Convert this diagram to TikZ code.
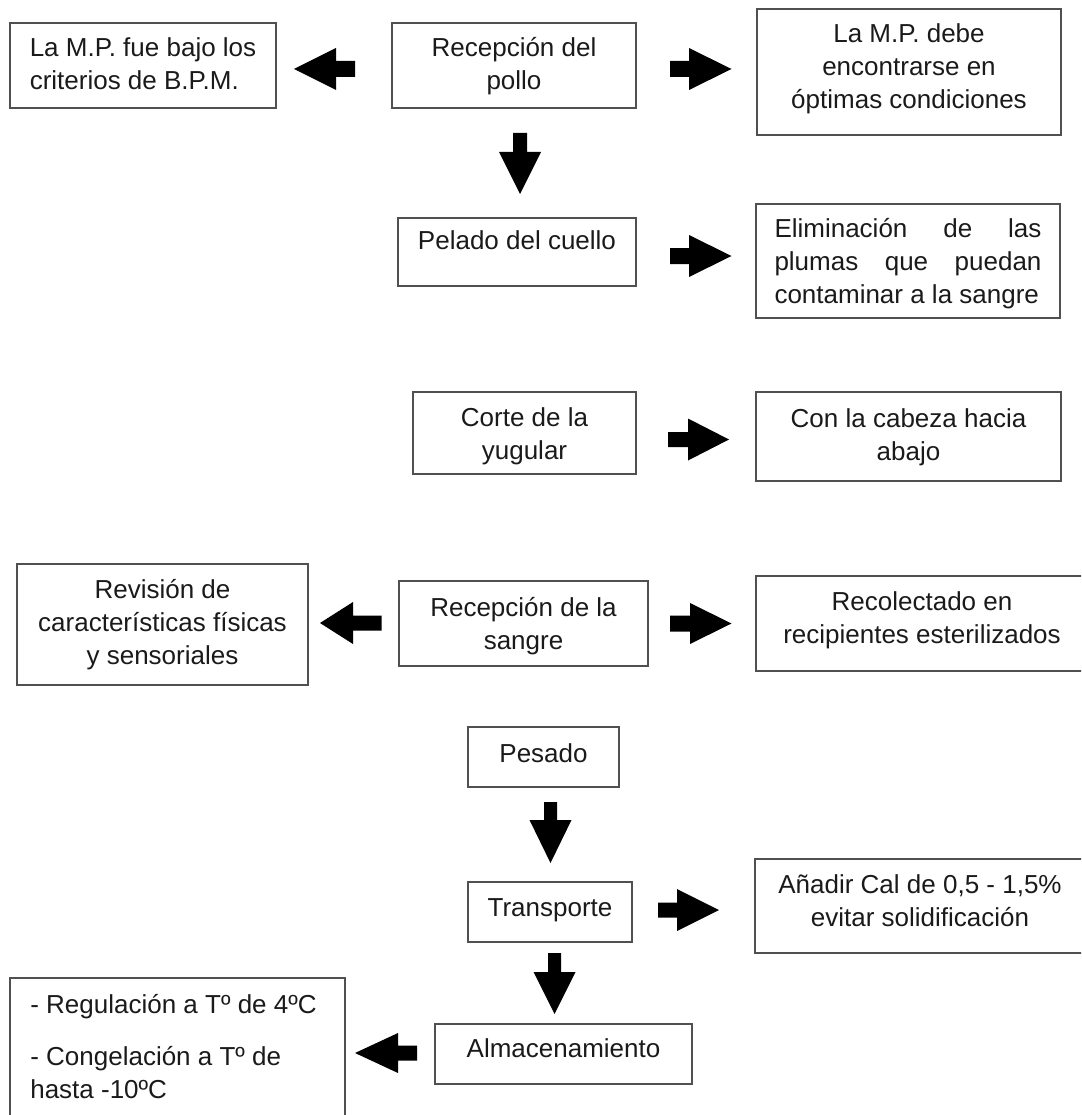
\documentclass[tikz,border=0pt]{standalone}
\usepackage{fontspec}
\setmainfont{Liberation Sans}
\usetikzlibrary{calc}
\definecolor{boxcol}{HTML}{505050}
\definecolor{txtcol}{HTML}{1A1A1A}
\newcommand\mainsz{\fontsize{26}{33}\selectfont}
\newcommand\ctr[2]{\parbox[t]{#1}{\centering #2}}
% block arrow: tail, tip, head length, head half width, shaft half width
\newcommand\blkarrow[5]{%
  \path ($(#2)!#3!(#1)$) coordinate (hb);
  \fill[arrowcol] ($(#1)!#5!90:(#2)$) -- ($(hb)!#5!90:(#2)$) -- ($(hb)!#4!90:(#2)$) -- (#2)
     -- ($(hb)!#4!-90:(#2)$) -- ($(hb)!#5!-90:(#2)$) -- ($(#1)!#5!-90:(#2)$) -- cycle;}
\colorlet{arrowcol}{black}
\begin{document}
\begin{tikzpicture}[x=1pt,y=-1pt,
  box/.style={draw=boxcol, line width=1.5pt, inner sep=0pt, text=txtcol, font=\mainsz}]
\useasboundingbox (0,0) rectangle (1081,1115);
\clip (0,0) rectangle (1081,1115);

% ---- boxes ----
\node[box, minimum width=266pt, minimum height=85pt, text height=0pt, text depth=17pt] (A) at (143,65.5)
  {\vtop{\hbox{La M.P. fue bajo los}\hbox{criterios de B.P.M.}}};
\node[box, minimum width=244pt, minimum height=85pt, text height=0pt, text depth=17pt] (B) at (514,65.5)
  {\ctr{240pt}{Recepción del\\pollo}};
\node[box, minimum width=304pt, minimum height=126pt, text height=0pt, text depth=58pt] (C) at (909,72)
  {\ctr{300pt}{La M.P. debe\\encontrarse en\\óptimas condiciones}};
\node[box, minimum width=238pt, minimum height=68pt, text height=0pt, text depth=4pt] (D) at (517,252)
  {\ctr{234pt}{Pelado del cuello}};
\node[box, minimum width=304pt, minimum height=114pt, text height=0pt, text depth=48pt] (E) at (908,261)
  {\parbox[t]{267pt}{\tolerance=10000 \hbadness=10000 Eliminación de las\linebreak plumas que puedan\linebreak contaminar a la sangre}};
\node[box, minimum width=223pt, minimum height=82pt, text height=0pt, text depth=14pt] (F) at (524.5,433)
  {\ctr{219pt}{Corte de la\\yugular}};
\node[box, minimum width=305pt, minimum height=89pt, text height=0pt, text depth=19pt] (G) at (908.5,436.5)
  {\ctr{300pt}{Con la cabeza hacia\\abajo}};
\node[box, minimum width=291pt, minimum height=121pt, text height=0pt, text depth=53pt] (H) at (162.5,624.5)
  {\ctr{287pt}{Revisión de\\características físicas\\y sensoriales}};
\node[box, minimum width=249pt, minimum height=85pt, text height=0pt, text depth=15pt] (I) at (523.5,623.5)
  {\ctr{245pt}{Recepción de la\\sangre}};
\node[box, minimum width=332pt, minimum height=95pt, text height=0pt, text depth=27pt] (J) at (922,623.5)
  {\ctr{328pt}{Recolectado en\\recipientes esterilizados}};
\node[box, minimum width=151pt, minimum height=60pt, text height=10pt, text depth=0pt] (P) at (543.5,757)
  {\ctr{147pt}{Pesado}};
\node[box, minimum width=164pt, minimum height=60pt, text height=8pt, text depth=0pt] (T) at (550,912)
  {\ctr{160pt}{Transporte}};
\node[box, minimum width=330pt, minimum height=94pt, text height=0pt, text depth=26pt] (K) at (920,906)
  {\ctr{326pt}{Añadir Cal de 0,5 - 1,5\%\\evitar solidificación}};
\node[box, minimum width=257pt, minimum height=60pt, text height=6pt, text depth=0pt] (M) at (563.5,1054)
  {\ctr{253pt}{Almacenamiento}};
\node[box, minimum width=335pt, minimum height=152pt, text height=0pt, text depth=82pt] (L) at (177.5,1054)
  {\vtop{\hbox{- Regulación a Tº de 4ºC\kern8pt}\vskip19pt\hbox{- Congelación a Tº de}\hbox{hasta -10ºC}}};

% ---- connector end points ----
\coordinate (BA-s) at (355,69);    \coordinate (BA-e) at (294,69);
\coordinate (BC-s) at (670,69);    \coordinate (BC-e) at (731.5,69);
\coordinate (BD-s) at (520,133);   \coordinate (BD-e) at (520,194);
\coordinate (DE-s) at (670,256);   \coordinate (DE-e) at (731.5,256);
\coordinate (FG-s) at (668,439.5); \coordinate (FG-e) at (729,439.5);
\coordinate (IH-s) at (381.5,623); \coordinate (IH-e) at (320,623);
\coordinate (IJ-s) at (670,623.5); \coordinate (IJ-e) at (731.5,623.5);
\coordinate (PT-s) at (550.5,802); \coordinate (PT-e) at (550.5,863);
\coordinate (TK-s) at (658,910);   \coordinate (TK-e) at (719,910);
\coordinate (TM-s) at (554.5,953); \coordinate (TM-e) at (554.5,1014);
\coordinate (ML-s) at (417,1053);  \coordinate (ML-e) at (355,1053);

% ---- block arrows ----
\blkarrow{BA-s}{BA-e}{42pt}{21pt}{8pt}
\blkarrow{BC-s}{BC-e}{42.5pt}{21pt}{8pt}
\blkarrow{BD-s}{BD-e}{42pt}{21pt}{7pt}
\blkarrow{DE-s}{DE-e}{42.5pt}{21pt}{8pt}
\blkarrow{FG-s}{FG-e}{41pt}{21pt}{7.5pt}
\blkarrow{IH-s}{IH-e}{33pt}{21pt}{7.5pt}
\blkarrow{IJ-s}{IJ-e}{41.5pt}{20.5pt}{8pt}
\blkarrow{PT-s}{PT-e}{43pt}{21pt}{6.5pt}
\blkarrow{TK-s}{TK-e}{42pt}{21pt}{7.5pt}
\blkarrow{TM-s}{TM-e}{42pt}{21pt}{6.5pt}
\blkarrow{ML-s}{ML-e}{43pt}{20pt}{7.5pt}
\end{tikzpicture}
\end{document}
